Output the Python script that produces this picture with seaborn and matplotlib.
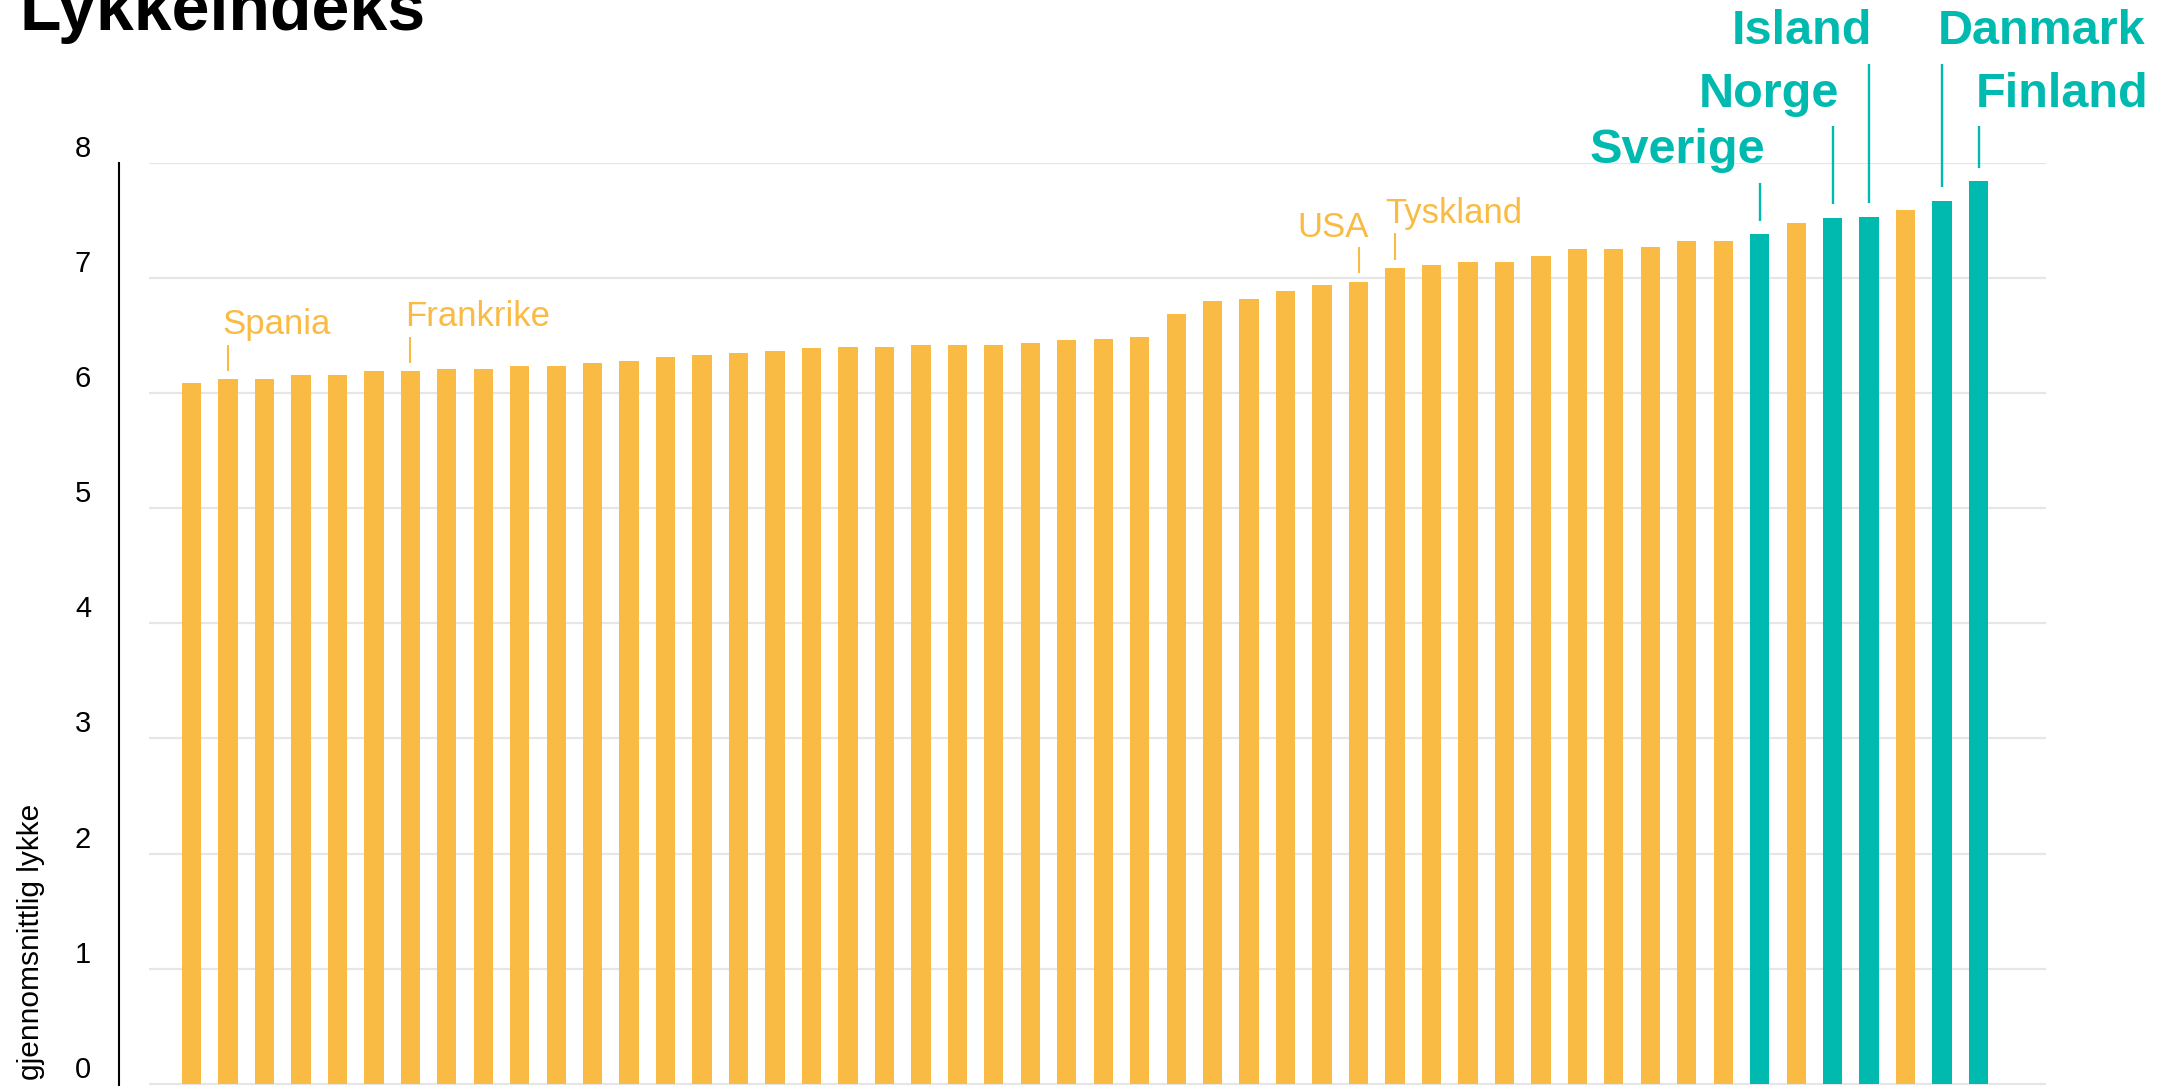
import matplotlib
matplotlib.use("Agg")
import matplotlib.pyplot as plt
import seaborn as sns
import pandas as pd

# lykkeindeks per land, sortert stigende (50 land)
scores = [6.09, 6.12, 6.12, 6.16, 6.16, 6.19, 6.19, 6.21, 6.21, 6.24,
          6.24, 6.26, 6.28, 6.31, 6.33, 6.35, 6.37, 6.39, 6.40, 6.40,
          6.42, 6.42, 6.42, 6.44, 6.46, 6.47, 6.49, 6.69, 6.80, 6.82,
          6.89, 6.94, 6.97, 7.09, 7.11, 7.14, 7.14, 7.19, 7.25, 7.25,
          7.27, 7.32, 7.32, 7.38, 7.48, 7.52, 7.53, 7.59, 7.67, 7.84]

nordic_names = ["Sverige", "Norge", "Island", "Danmark", "Finland"]
nordic_idx = [43, 45, 46, 48, 49]
other_names = ["Spania", "Frankrike", "USA", "Tyskland"]
other_idx = [1, 6, 32, 33]
yticks = [0, 1, 2, 3, 4, 5, 6, 7, 8]

ORANGE = "#F9BB43"
TEAL = "#00B9AF"
W, H = 2178, 1086

sns.set_style("white")
plt.rcParams["font.family"] = ["Liberation Sans", "DejaVu Sans"]

df = pd.DataFrame({"rank": range(len(scores)), "score": scores})
df["group"] = "andre"
df.loc[nordic_idx, "group"] = "norden"

fig = plt.figure(figsize=(W / 100, H / 100), dpi=100)
ax = fig.add_axes([149 / W, 0, (2046 - 149) / W, 923 / H])

sns.barplot(data=df, x="rank", y="score", hue="group",
            palette={"andre": ORANGE, "norden": TEAL}, saturation=1,
            dodge=False, width=0.53, errorbar=None, legend=False,
            linewidth=0, ax=ax, zorder=2)

ax.set_xlim(-1.165, 50.85)
ax.set_ylim(-0.02, 8)
ax.set_axisbelow(True)
ax.set_xticks([])
ax.set_yticks(yticks)
ax.set_xlabel("")
ax.set_ylabel("")
ax.yaxis.grid(True, color="#E6E6E6", lw=1.6)
ax.xaxis.grid(False)
for s in ["top", "right", "bottom"]:
    ax.spines[s].set_visible(False)
ax.spines["left"].set_position(("outward", 21.6))
ax.spines["left"].set_linewidth(1.5)
ax.spines["left"].set_color("black")
ax.tick_params(axis="y", length=0, pad=20, labelsize=21, labelcolor="black")
for lbl in ax.get_yticklabels():
    lbl.set_va("bottom")

# orange etiketter
other_dx = {"Spania": -0.15, "Frankrike": -0.15, "USA": 0.28, "Tyskland": -0.28}
other_ha = {"Spania": "left", "Frankrike": "left", "USA": "right", "Tyskland": "left"}
for name, i in zip(other_names, other_idx):
    top = scores[i]
    ax.plot([i, i], [top + 0.07, top + 0.30], color=ORANGE, lw=1.5,
            clip_on=False, solid_capstyle="butt")
    ax.text(i + other_dx[name], top + 0.39, name, color=ORANGE, fontsize=25,
            ha=other_ha[name], va="baseline", clip_on=False)

# nordiske etiketter i tre nivaaer
levels = [8.0, 8.49, 9.03]
nordic_level = {"Sverige": 0, "Norge": 1, "Island": 2, "Danmark": 2, "Finland": 1}
nordic_dx = {"Sverige": 0.15, "Norge": 0.18, "Island": 0.08, "Danmark": -0.12, "Finland": -0.08}
nordic_ha = {"Sverige": "right", "Norge": "right", "Island": "right", "Danmark": "left", "Finland": "left"}
for name, i in zip(nordic_names, nordic_idx):
    top = scores[i]
    base = levels[nordic_level[name]]
    ax.plot([i, i], [top + 0.12, base - 0.17], color=TEAL, lw=1.7,
            clip_on=False, solid_capstyle="butt")
    ax.text(i + nordic_dx[name], base, name, color=TEAL, fontsize=35,
            fontweight="bold", ha=nordic_ha[name], va="baseline", clip_on=False)

fig.text(20 / W, 1 - 30 / H, "Lykkeindeks", fontsize=49, fontweight="bold",
         ha="left", va="baseline", color="black")
fig.text(31 / W, 1 - 1080 / H, "gjennomsnittlig lykke", rotation=90,
         ha="center", va="bottom", fontsize=21.5, color="black")

fig.savefig("out.png", dpi=100)
plt.close(fig)
